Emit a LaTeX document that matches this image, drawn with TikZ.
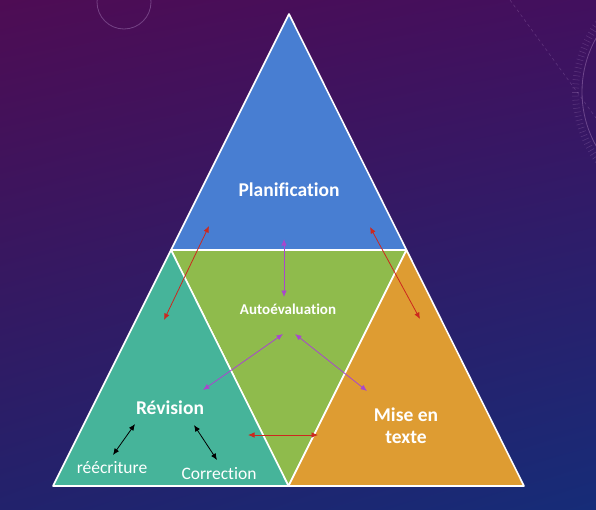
\documentclass[tikz,border=0pt]{standalone}
\usepackage{fontspec}
\setmainfont{Carlito}[Ligatures=NoCommon]
\usetikzlibrary{arrows.meta,shadings}
\definecolor{bgtl}{RGB}{78,12,84}
\definecolor{bgtr}{RGB}{66,16,94}
\definecolor{bgbl}{RGB}{34,34,108}
\definecolor{bgbr}{RGB}{22,44,120}
\definecolor{planblue}{RGB}{72,126,210}
\definecolor{autogreen}{RGB}{143,187,76}
\definecolor{revteal}{RGB}{70,180,154}
\definecolor{miseorange}{RGB}{222,156,50}
\definecolor{arrred}{RGB}{204,40,30}
\definecolor{arrpurple}{RGB}{168,72,204}
\definecolor{decor}{RGB}{170,130,190}

\begin{document}
\begin{tikzpicture}[x=1pt,y=-1pt,
part/.style={draw=white,line width=1.6pt,line join=round},
lbl/.style={text=white,font=\bfseries\fontsize{19.5}{22}\selectfont,align=center},
sub/.style={text=white,font=\fontsize{17.5}{20}\selectfont},
dbl/.style={{Latex[length=6.5pt,width=5.5pt]}-{Latex[length=6.5pt,width=5.5pt]},line width=0.8pt},
redarr/.style={dbl,arrred},
purarr/.style={dbl,arrpurple},
blkarr/.style={dbl,black}
]
\useasboundingbox (0,0) rectangle (596,509);
\clip (0,0) rectangle (596,509);
\shade[upper left=bgtl,upper right=bgtr,lower left=bgbl,lower right=bgbr]
  (0,0) rectangle (596,509);
\draw[decor,opacity=.45,line width=.8pt] (124,2) circle (27);
\draw[decor,opacity=.6,line width=1.1pt] (104,-2) arc (180:330:19);
\draw[decor,opacity=.3,dashed,line width=.6pt] (510,0) -- (596,118);
\draw[decor,opacity=.45,line width=.8pt] (692,92) circle (110);
\foreach \a in {140,142,...,226}
  \draw[decor,opacity=.3,line width=.5pt] (692,92) ++(\a:113) -- ++(\a:7);

\coordinate (apex) at (289,14);
\coordinate (bl) at (53,486);
\coordinate (br) at (524,486);
\coordinate (ml) at (171,250);
\coordinate (mr) at (406.5,250);
\coordinate (mb) at (288.5,486);

\filldraw[part,fill=planblue] (apex) -- (ml) -- (mr) -- cycle;
\filldraw[part,fill=autogreen] (ml) -- (mr) -- (mb) -- cycle;
\filldraw[part,fill=revteal] (ml) -- (mb) -- (bl) -- cycle;
\filldraw[part,fill=miseorange] (mr) -- (br) -- (mb) -- cycle;

\node[lbl] (plan) at (289,190) {Planification};
\node[lbl,font=\bfseries\fontsize{15}{18}\selectfont] (auto) at (288,309) {Autoévaluation};
\node[lbl] (rev) at (170,408) {Révision};
\node[lbl] (mise) at (406,426) {Mise en\\texte};
\node[sub] (reec) at (112,468) {réécriture};
\node[sub] (corr) at (219,474) {Correction};

\coordinate (pl) at (164,320);
\coordinate (pu) at (209,226);
\coordinate (qu) at (370,227);
\coordinate (ql) at (420,319);
\coordinate (vu) at (284,239);
\coordinate (vl) at (284,297);
\coordinate (au) at (283,334);
\coordinate (al) at (203,390);
\coordinate (bu) at (295,334);
\coordinate (bd) at (367,391);
\coordinate (hl) at (248,435);
\coordinate (hr) at (318,435);
\coordinate (ra) at (113,455);
\coordinate (rb) at (135,424);
\coordinate (ca) at (194,425);
\coordinate (cb) at (217,460);

\draw[redarr] (pl) -- (pu);
\draw[redarr] (qu) -- (ql);
\draw[purarr] (vu) -- (vl);
\draw[purarr] (au) -- (al);
\draw[purarr] (bu) -- (bd);
\draw[redarr] (hl) -- (hr);
\draw[blkarr] (ra) -- (rb);
\draw[blkarr] (ca) -- (cb);
\end{tikzpicture}
\end{document}
